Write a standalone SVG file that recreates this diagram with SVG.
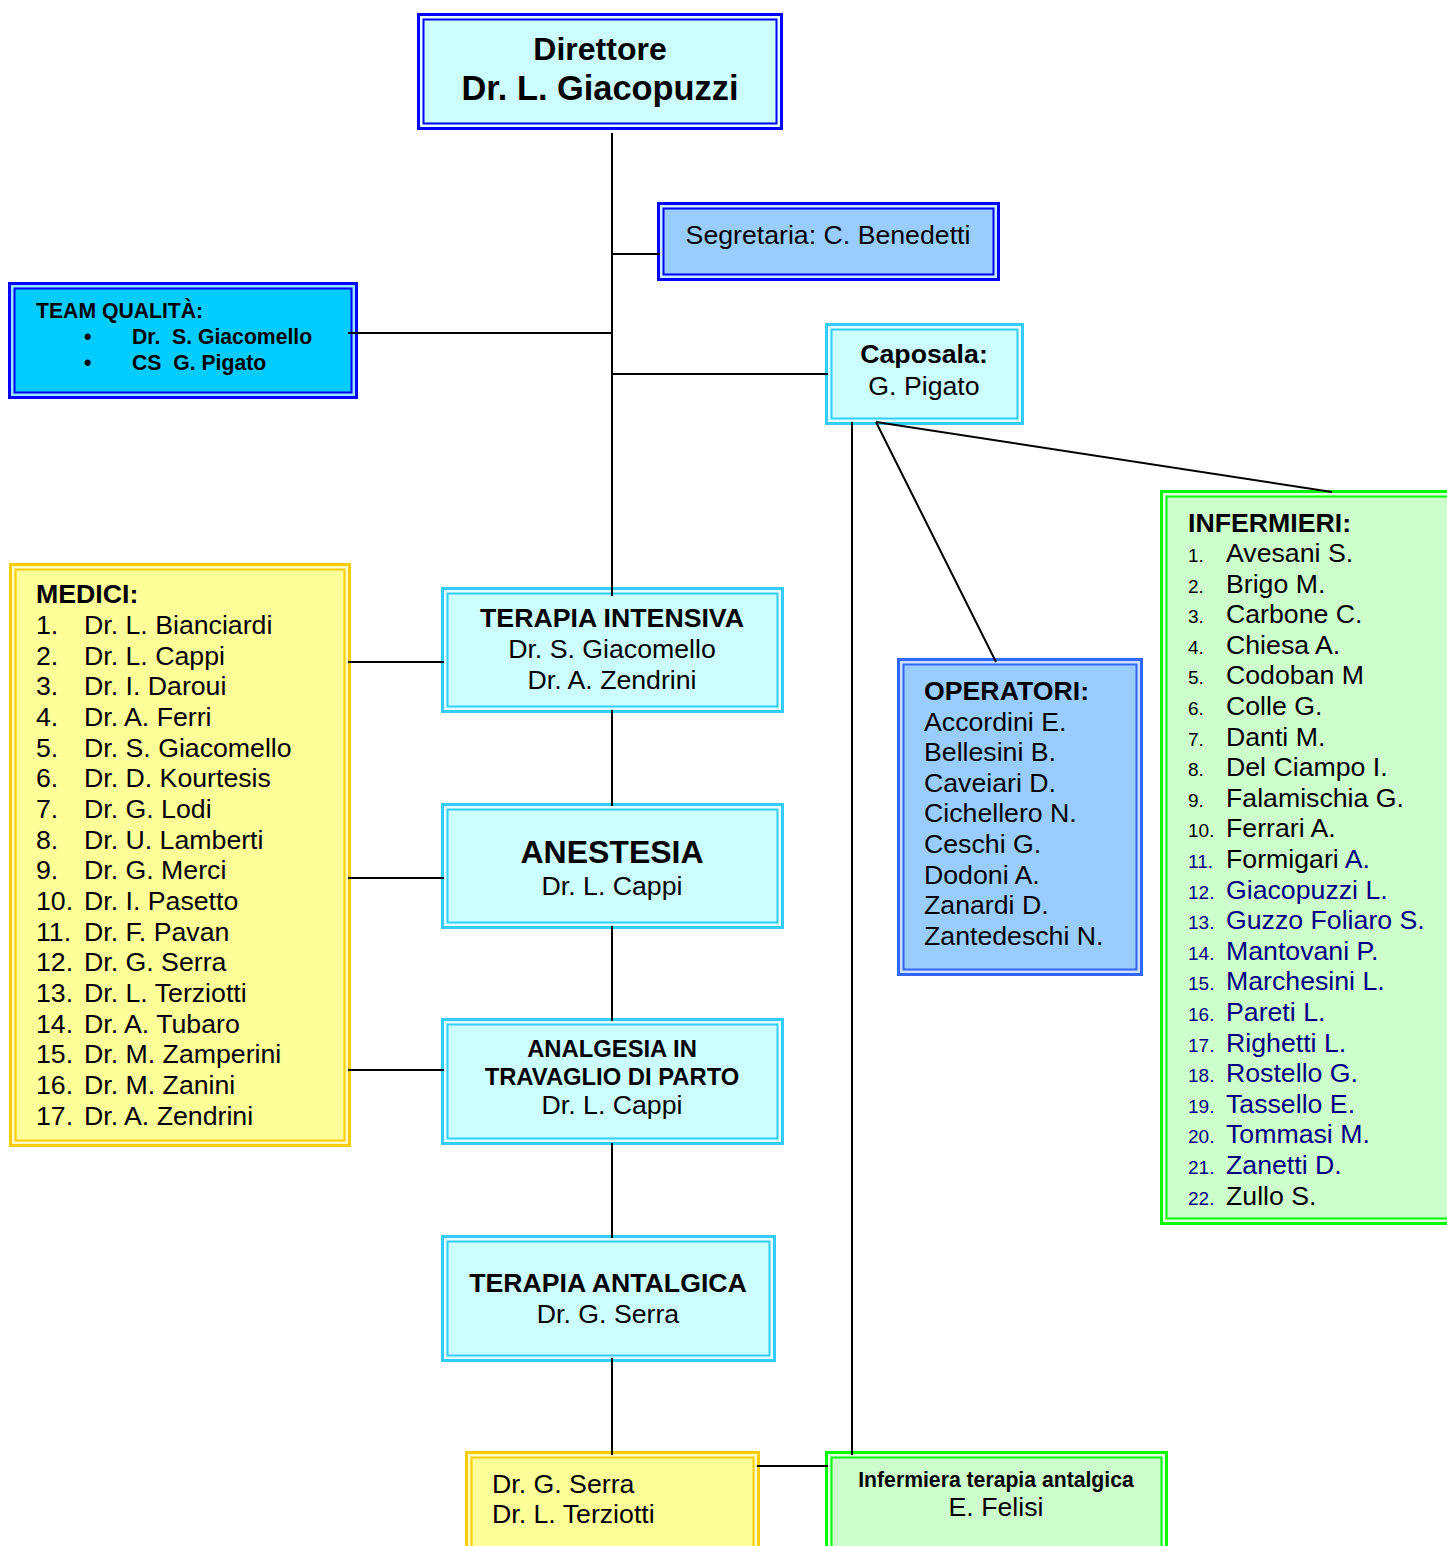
<svg xmlns="http://www.w3.org/2000/svg" width="1447" height="1546" viewBox="0 0 1447 1546">
<style>
text{font-family:"Liberation Sans",Arial,sans-serif;fill:#000}
.b{font-weight:bold}
.c{text-anchor:middle}
.f26{font-size:26.7px}
.f21{font-size:21.2px}
.num{font-size:19px}
.nv{fill:#000080}
.pre{white-space:pre}
.ln{stroke:#000;stroke-width:2;fill:none}
.oB{fill:#e6ffff;stroke:#0000ff;stroke-width:3}
.iB{fill:#ccffff;stroke:#0000ff;stroke-width:2}
.oS{fill:#cceeff;stroke:#0000ff;stroke-width:3}
.iS{fill:#99ccff;stroke:#0000ff;stroke-width:2}
.oT{fill:#99e6ff;stroke:#0000ff;stroke-width:3}
.iT{fill:#00ccff;stroke:#0000ff;stroke-width:2}
.oC{fill:#e6ffff;stroke:#33ccff;stroke-width:3}
.iC{fill:#ccffff;stroke:#33ccff;stroke-width:2}
.oY{fill:#ffffcc;stroke:#ffcc00;stroke-width:3}
.iY{fill:#ffff99;stroke:#ffcc00;stroke-width:2}
.oG{fill:#e6ffe6;stroke:#00ff00;stroke-width:3}
.iG{fill:#ccffcc;stroke:#00ff00;stroke-width:2}
.oO{fill:#cce0ff;stroke:#3366ff;stroke-width:3}
.iO{fill:#99ccff;stroke:#3366ff;stroke-width:2}
</style>
<g id="direttore">
<rect class="oB" x="418.5" y="14.5" width="363" height="114"/>
<rect class="iB" x="423.5" y="19.5" width="353" height="104"/>
<text class="b c" x="600" y="60" font-size="32">Direttore</text>
<text class="b c" x="600" y="100" font-size="34.4">Dr. L. Giacopuzzi</text>
</g>
<g id="segretaria">
<rect class="oS" x="658.5" y="203.5" width="340" height="76"/>
<rect class="iS" x="663.5" y="208.5" width="330" height="66"/>
<text class="c f26" x="828" y="244">Segretaria: C. Benedetti</text>
</g>
<g id="team-qualita">
<rect class="oT" x="9.5" y="283.5" width="347" height="114"/>
<rect class="iT" x="14.5" y="288.5" width="337" height="104"/>
<text class="b f21" x="36" y="318">TEAM QUALITÀ:</text>
<text class="b f21" x="84" y="344">•</text>
<text class="b f21" x="84" y="370">•</text>
<text class="b f21 pre" x="132" y="344">Dr.  S. Giacomello</text>
<text class="b f21 pre" x="132" y="370">CS  G. Pigato</text>
</g>
<g id="caposala">
<rect class="oC" x="826.5" y="324.5" width="196" height="99"/>
<rect class="iC" x="831.5" y="329.5" width="186" height="89"/>
<text class="b c f26" x="924" y="363">Caposala:</text>
<text class="c f26" x="924" y="395">G. Pigato</text>
</g>
<g id="terapia-intensiva">
<rect class="oC" x="442.5" y="588.5" width="340" height="123"/>
<rect class="iC" x="447.5" y="593.5" width="330" height="113"/>
<text class="b c f26" x="612" y="627">TERAPIA INTENSIVA</text>
<text class="c f26" x="612" y="658">Dr. S. Giacomello</text>
<text class="c f26" x="612" y="689">Dr. A. Zendrini</text>
</g>
<g id="anestesia">
<rect class="oC" x="442.5" y="804.5" width="340" height="123"/>
<rect class="iC" x="447.5" y="809.5" width="330" height="113"/>
<text class="b c" x="612" y="863" font-size="32">ANESTESIA</text>
<text class="c f26" x="612" y="895">Dr. L. Cappi</text>
</g>
<g id="analgesia">
<rect class="oC" x="442.5" y="1019.5" width="340" height="124"/>
<rect class="iC" x="447.5" y="1024.5" width="330" height="114"/>
<text class="b c" x="612" y="1057" font-size="23.8">ANALGESIA IN</text>
<text class="b c" x="612" y="1085" font-size="23.8">TRAVAGLIO DI PARTO</text>
<text class="c f26" x="612" y="1114">Dr. L. Cappi</text>
</g>
<g id="terapia-antalgica">
<rect class="oC" x="442.5" y="1236.5" width="332" height="124"/>
<rect class="iC" x="447.5" y="1241.5" width="322" height="114"/>
<text class="b c f26" x="608" y="1292">TERAPIA ANTALGICA</text>
<text class="c f26" x="608" y="1323">Dr. G. Serra</text>
</g>
<g id="medici">
<rect class="oY" x="10.5" y="564.5" width="339" height="581"/>
<rect class="iY" x="15.5" y="569.5" width="329" height="571"/>
<text class="b f26" x="36" y="603">MEDICI:</text>
<g class="f26">
<text x="36" y="634">1.</text><text x="84" y="634">Dr. L. Bianciardi</text>
<text x="36" y="664.6">2.</text><text x="84" y="664.6">Dr. L. Cappi</text>
<text x="36" y="695.3">3.</text><text x="84" y="695.3">Dr. I. Daroui</text>
<text x="36" y="726">4.</text><text x="84" y="726">Dr. A. Ferri</text>
<text x="36" y="756.6">5.</text><text x="84" y="756.6">Dr. S. Giacomello</text>
<text x="36" y="787.3">6.</text><text x="84" y="787.3">Dr. D. Kourtesis</text>
<text x="36" y="818">7.</text><text x="84" y="818">Dr. G. Lodi</text>
<text x="36" y="848.6">8.</text><text x="84" y="848.6">Dr. U. Lamberti</text>
<text x="36" y="879.3">9.</text><text x="84" y="879.3">Dr. G. Merci</text>
<text x="36" y="910">10.</text><text x="84" y="910">Dr. I. Pasetto</text>
<text x="36" y="940.6">11.</text><text x="84" y="940.6">Dr. F. Pavan</text>
<text x="36" y="971.3">12.</text><text x="84" y="971.3">Dr. G. Serra</text>
<text x="36" y="1002">13.</text><text x="84" y="1002">Dr. L. Terziotti</text>
<text x="36" y="1032.6">14.</text><text x="84" y="1032.6">Dr. A. Tubaro</text>
<text x="36" y="1063.3">15.</text><text x="84" y="1063.3">Dr. M. Zamperini</text>
<text x="36" y="1094">16.</text><text x="84" y="1094">Dr. M. Zanini</text>
<text x="36" y="1124.6">17.</text><text x="84" y="1124.6">Dr. A. Zendrini</text>
</g>
</g>
<g id="operatori">
<rect class="oO" x="898.5" y="659.5" width="243" height="315"/>
<rect class="iO" x="903.5" y="664.5" width="233" height="305"/>
<text class="b f26" x="924" y="700">OPERATORI:</text>
<g class="f26">
<text x="924" y="730.6">Accordini E.</text>
<text x="924" y="761.2">Bellesini B.</text>
<text x="924" y="791.8">Caveiari D.</text>
<text x="924" y="822.4">Cichellero N.</text>
<text x="924" y="853">Ceschi G.</text>
<text x="924" y="883.6">Dodoni A.</text>
<text x="924" y="914.2">Zanardi D.</text>
<text x="924" y="944.8">Zantedeschi N.</text>
</g>
</g>
<g id="infermieri">
<rect class="oG" x="1161.5" y="491.5" width="300" height="732"/>
<rect class="iG" x="1166.5" y="496.5" width="290" height="722"/>
<text class="b f26" x="1188" y="532">INFERMIERI:</text>
<g class="num">
<text x="1188" y="562">1.</text><text x="1188" y="592.6">2.</text><text x="1188" y="623.2">3.</text><text x="1188" y="653.8">4.</text>
<text x="1188" y="684.4">5.</text><text x="1188" y="715">6.</text><text x="1188" y="745.6">7.</text><text x="1188" y="776.2">8.</text>
<text x="1188" y="806.8">9.</text><text x="1188" y="837.4">10.</text>
<text class="nv" x="1188" y="868">11.</text><text class="nv" x="1188" y="898.6">12.</text><text class="nv" x="1188" y="929.2">13.</text>
<text class="nv" x="1188" y="959.8">14.</text><text class="nv" x="1188" y="990.4">15.</text><text class="nv" x="1188" y="1021">16.</text>
<text class="nv" x="1188" y="1051.6">17.</text><text class="nv" x="1188" y="1082.2">18.</text><text class="nv" x="1188" y="1112.8">19.</text>
<text class="nv" x="1188" y="1143.4">20.</text><text class="nv" x="1188" y="1174">21.</text><text class="nv" x="1188" y="1204.6">22.</text>
</g>
<g class="f26">
<text x="1226" y="562">Avesani S.</text>
<text x="1226" y="592.6">Brigo M.</text>
<text x="1226" y="623.2">Carbone C.</text>
<text x="1226" y="653.8">Chiesa A.</text>
<text x="1226" y="684.4">Codoban M</text>
<text x="1226" y="715">Colle G.</text>
<text x="1226" y="745.6">Danti M.</text>
<text x="1226" y="776.2">Del Ciampo I.</text>
<text x="1226" y="806.8">Falamischia G.</text>
<text x="1226" y="837.4">Ferrari A.</text>
<text x="1226" y="868">Formigari <tspan class="nv">A.</tspan></text>
<text class="nv" x="1226" y="898.6">Giacopuzzi L.</text>
<text class="nv" x="1226" y="929.2">Guzzo Foliaro S.</text>
<text class="nv" x="1226" y="959.8">Mantovani P.</text>
<text class="nv" x="1226" y="990.4">Marchesini L.</text>
<text class="nv" x="1226" y="1021">Pareti L.</text>
<text class="nv" x="1226" y="1051.6">Righetti L.</text>
<text class="nv" x="1226" y="1082.2">Rostello G.</text>
<text class="nv" x="1226" y="1112.8">Tassello E.</text>
<text class="nv" x="1226" y="1143.4">Tommasi M.</text>
<text class="nv" x="1226" y="1174">Zanetti D.</text>
<text x="1226" y="1204.6">Zullo S.</text>
</g>
</g>
<g id="medici-antalgica">
<rect class="oY" x="466.5" y="1452.5" width="292" height="110"/>
<rect class="iY" x="471.5" y="1457.5" width="282" height="100"/>
<text class="f26" x="492" y="1493">Dr. G. Serra</text>
<text class="f26" x="492" y="1523">Dr. L. Terziotti</text>
</g>
<g id="infermiera-antalgica">
<rect class="oG" x="826.5" y="1452.5" width="340" height="110"/>
<rect class="iG" x="831.5" y="1457.5" width="330" height="100"/>
<text class="b c f21" x="996" y="1487">Infermiera terapia antalgica</text>
<text class="c f26" x="996" y="1516">E. Felisi</text>
</g>
<g id="connectors">
<line class="ln" x1="612" y1="133" x2="612" y2="596"/>
<line class="ln" x1="612" y1="254" x2="660" y2="254"/>
<line class="ln" x1="348" y1="333" x2="612" y2="333"/>
<line class="ln" x1="612" y1="374" x2="828" y2="374"/>
<line class="ln" x1="612" y1="710" x2="612" y2="806"/>
<line class="ln" x1="612" y1="926" x2="612" y2="1021"/>
<line class="ln" x1="612" y1="1143" x2="612" y2="1238"/>
<line class="ln" x1="612" y1="1358" x2="612" y2="1455"/>
<line class="ln" x1="348" y1="662" x2="444" y2="662"/>
<line class="ln" x1="348" y1="878" x2="444" y2="878"/>
<line class="ln" x1="348" y1="1070" x2="444" y2="1070"/>
<line class="ln" x1="852" y1="422" x2="852" y2="1455"/>
<line class="ln" x1="876" y1="422" x2="996" y2="662"/>
<line class="ln" x1="876" y1="422" x2="1332" y2="492"/>
<line class="ln" x1="757" y1="1466" x2="828" y2="1466"/>
</g>
</svg>
